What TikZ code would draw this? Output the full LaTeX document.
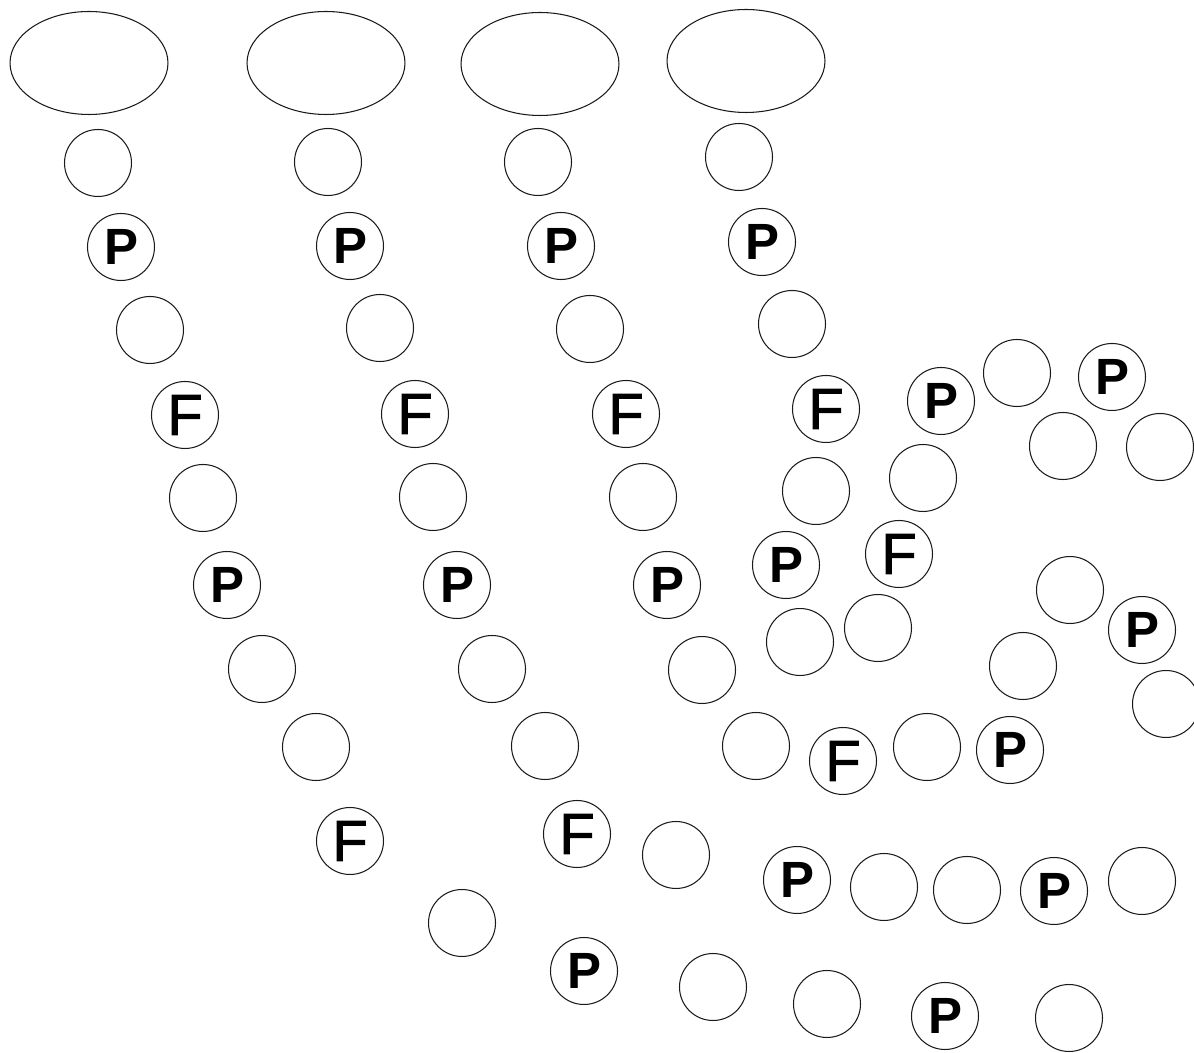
\documentclass[tikz,border=0pt]{standalone}
\usepackage{fontspec}
\setmainfont{Liberation Sans}
\newfontface\fface[FakeBold=1.6]{Liberation Sans}
\usetikzlibrary{shapes.geometric}
\usepackage{xcolor}
\definecolor{ink}{HTML}{1A1A1A}
\tikzset{
  head/.style  = {draw=ink, line width=0.6pt, ellipse, inner sep=0pt,
                  minimum width=3.16cm, minimum height=2.06cm},
  cell/.style  = {draw=ink, line width=0.6pt, circle, inner sep=0pt,
                  minimum size=1.34cm},
  pcell/.style = {cell, font=\fontsize{29}{29}\selectfont\bfseries},
  fcell/.style = {cell, font=\fface\fontsize{33}{33}\selectfont},
}
\begin{document}
\begin{tikzpicture}[x=0.02cm, y=-0.02cm]
  \useasboundingbox (0,0) rectangle (1194,1053);

  % heads
  \node[head] (ea) at (89,63) {};
  \node[head] (eb) at (326,63) {};
  \node[head] (ec) at (540,64) {};
  \node[head] (ed) at (746,61) {};

  % first strand
  \node[cell]  (a1)  at (98,163)   {};
  \node[pcell] (a2)  at (121,247)  {P};
  \node[cell]  (a3)  at (150,330)  {};
  \node[fcell] (a4)  at (185,415)  {F};
  \node[cell]  (a5)  at (203,498)  {};
  \node[pcell] (a6)  at (227,585)  {P};
  \node[cell]  (a7)  at (262,669)  {};
  \node[cell]  (a8)  at (316,747)  {};
  \node[fcell] (a9)  at (350,841)  {F};
  \node[cell]  (a10) at (462,923)  {};
  \node[pcell] (a11) at (584,971)  {P};
  \node[cell]  (a12) at (713,987)  {};
  \node[cell]  (a13) at (827,1004) {};
  \node[pcell] (a14) at (945,1016) {P};
  \node[cell]  (a15) at (1069,1018) {};

  % second strand
  \node[cell]  (b1)  at (328,162)  {};
  \node[pcell] (b2)  at (350,246)  {P};
  \node[cell]  (b3)  at (380,328)  {};
  \node[fcell] (b4)  at (415,414)  {F};
  \node[cell]  (b5)  at (433,497)  {};
  \node[pcell] (b6)  at (457,585)  {P};
  \node[cell]  (b7)  at (492,669)  {};
  \node[cell]  (b8)  at (545,746)  {};
  \node[fcell] (b9)  at (577,834)  {F};
  \node[cell]  (b10) at (676,855)  {};
  \node[pcell] (b11) at (797,880)  {P};
  \node[cell]  (b12) at (884,887)  {};
  \node[cell]  (b13) at (967,890)  {};
  \node[pcell] (b14) at (1054,891) {P};
  \node[cell]  (b15) at (1142,881) {};

  % third strand
  \node[cell]  (c1)  at (538,162)  {};
  \node[pcell] (c2)  at (561,246)  {P};
  \node[cell]  (c3)  at (590,329)  {};
  \node[fcell] (c4)  at (626,414)  {F};
  \node[cell]  (c5)  at (643,497)  {};
  \node[pcell] (c6)  at (667,585)  {P};
  \node[cell]  (c7)  at (702,670)  {};
  \node[cell]  (c8)  at (756,746)  {};
  \node[fcell] (c9)  at (843,761)  {F};
  \node[cell]  (c10) at (927,747)  {};
  \node[pcell] (c11) at (1010,750) {P};
  \node[cell]  (c12) at (1023,666) {};
  \node[cell]  (c13) at (1070,590) {};
  \node[pcell] (c14) at (1142,630) {P};
  \node[cell]  (c15) at (1166,704) {};

  % fourth strand
  \node[cell]  (d1)  at (739,157)  {};
  \node[pcell] (d2)  at (762,242)  {P};
  \node[cell]  (d3)  at (792,324)  {};
  \node[fcell] (d4)  at (826,409)  {F};
  \node[cell]  (d5)  at (816,491)  {};
  \node[pcell] (d6)  at (786,565)  {P};
  \node[cell]  (d7)  at (800,642)  {};
  \node[cell]  (d8)  at (878,628)  {};
  \node[fcell] (d9)  at (899,554)  {F};
  \node[cell]  (d10) at (923,478)  {};
  \node[pcell] (d11) at (941,401)  {P};
  \node[cell]  (d12) at (1017,373) {};
  \node[pcell] (d13) at (1112,377) {P};
  \node[cell]  (d14) at (1063,446) {};
  \node[cell]  (d15) at (1160,447) {};

\end{tikzpicture}
\end{document}
